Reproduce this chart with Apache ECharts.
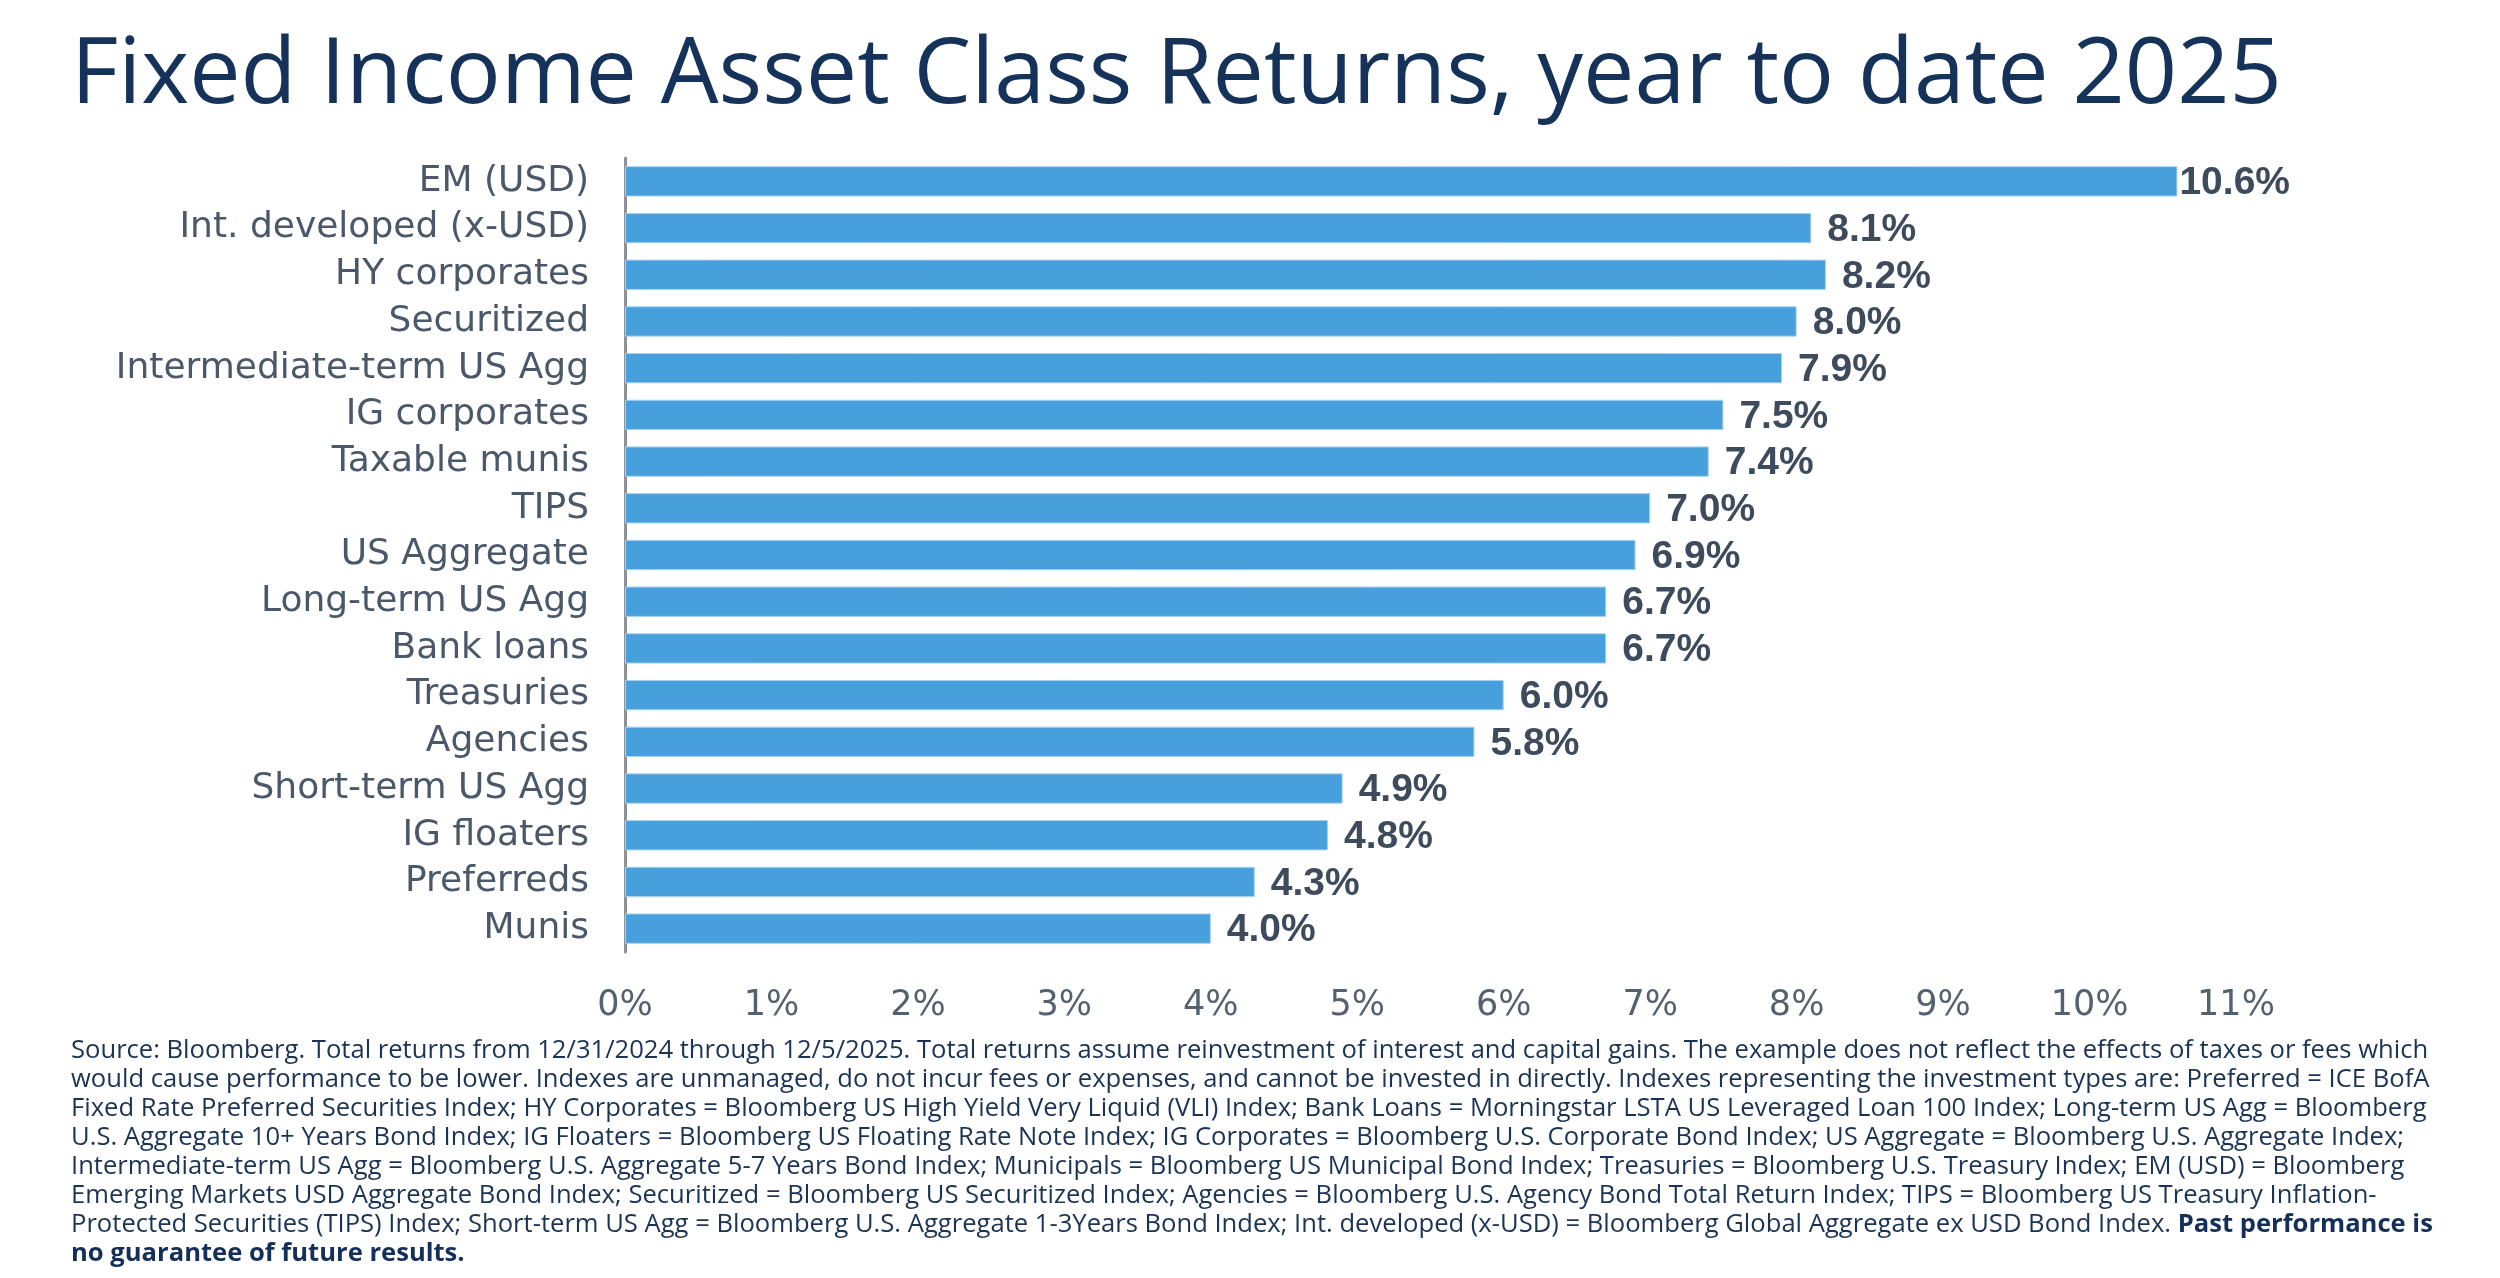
<!DOCTYPE html>
<html>
<head>
<meta charset="utf-8">
<title>Fixed Income Asset Class Returns</title>
<style>
    html, body { margin: 0; padding: 0; background: #fff; }
    #chart { width: 2500px; height: 1278px; }
</style>
</head>
<body>
<div id="chart"></div>
<script src="https://cdn.jsdelivr.net/npm/echarts@6/dist/echarts.min.js"></script>
<script>
    var categories = ['EM (USD)', 'Int. developed (x-USD)', 'HY corporates', 'Securitized', 'Intermediate-term US Agg',
        'IG corporates', 'Taxable munis', 'TIPS', 'US Aggregate', 'Long-term US Agg', 'Bank loans', 'Treasuries',
        'Agencies', 'Short-term US Agg', 'IG floaters', 'Preferreds', 'Munis'];
    var returns = [10.6, 8.1, 8.2, 8.0, 7.9, 7.5, 7.4, 7.0, 6.9, 6.7, 6.7, 6.0, 5.8, 4.9, 4.8, 4.3, 4.0];
    var axisTicks = [0, 1, 2, 3, 4, 5, 6, 7, 8, 9, 10, 11];

    var titleText = 'Fixed Income Asset Class Returns, year to date 2025';
    var noteLines = [
        'Source: Bloomberg. Total returns from 12/31/2024 through 12/5/2025. Total returns assume reinvestment of interest and capital gains. The example does not reflect the effects of taxes or fees which',
        'would cause performance to be lower. Indexes are unmanaged, do not incur fees or expenses, and cannot be invested in directly. Indexes representing the investment types are: Preferred = ICE BofA',
        'Fixed Rate Preferred Securities Index; HY Corporates = Bloomberg US High Yield Very Liquid (VLI) Index; Bank Loans = Morningstar LSTA US Leveraged Loan 100 Index; Long-term US Agg = Bloomberg',
        'U.S. Aggregate 10+ Years Bond Index; IG Floaters = Bloomberg US Floating Rate Note Index; IG Corporates = Bloomberg U.S. Corporate Bond Index; US Aggregate = Bloomberg U.S. Aggregate Index;',
        'Intermediate-term US Agg = Bloomberg U.S. Aggregate 5-7 Years Bond Index; Municipals = Bloomberg US Municipal Bond Index; Treasuries = Bloomberg U.S. Treasury Index; EM (USD) = Bloomberg',
        'Emerging Markets USD Aggregate Bond Index; Securitized = Bloomberg US Securitized Index; Agencies = Bloomberg U.S. Agency Bond Total Return Index; TIPS = Bloomberg US Treasury Inflation-',
        'Protected Securities (TIPS) Index; Short-term US Agg = Bloomberg U.S. Aggregate 1-3Years Bond Index; Int. developed (x-USD) = Bloomberg Global Aggregate ex USD Bond Index. {b|Past performance is}',
        '{b|no guarantee of future results.}'
    ];

    var myChart = echarts.init(document.getElementById('chart'));

    // footnote, one text per line so the wrapping matches the source
    var notes = noteLines.map(function (line, i) {
        return {
            type: 'text',
            left: 71,
            top: 1038 + i * 29,
            style: {
                text: line,
                font: '25.6px "Open Sans"',
                fill: '#1b3354',
                rich: {
                    b: { font: 'bold 25.6px "Open Sans"', fill: '#14305a' }
                }
            }
        };
    });

    var option = {
        backgroundColor: '#ffffff',
        animation: false,
        title: {
            text: titleText,
            left: 66,
            top: 26,
            textStyle: {
                fontFamily: 'Open Sans',
                fontSize: 91.5,
                fontWeight: 'normal',
                color: '#14325a'
            }
        },
        grid: {
            left: 625,
            top: 158,
            width: 1611,
            height: 794,
            containLabel: false
        },
        xAxis: {
            type: 'value',
            min: 0,
            max: 11,
            interval: 1,
            axisLine: { show: false },
            axisTick: { show: false },
            splitLine: { show: false },
            axisLabel: {
                margin: 36,
                fontFamily: 'DejaVu Sans',
                fontSize: 35,
                color: '#56616f',
                formatter: function (v) {
                    return axisTicks.indexOf(v) > -1 ? v + '%' : '';
                }
            }
        },
        yAxis: {
            type: 'category',
            inverse: true,
            data: categories,
            axisLine: { show: true, lineStyle: { color: '#8e9297', width: 3 } },
            axisTick: { show: false },
            axisLabel: {
                interval: 0,
                margin: 36,
                fontFamily: 'DejaVu Sans',
                fontSize: 36,
                lineHeight: 40,
                color: '#4a5869'
            }
        },
        series: [{
            type: 'bar',
            barCategoryGap: '35%',
            itemStyle: {
                color: '#479fdb',
                borderColor: '#a8d2f2',
                borderWidth: 1
            },
            label: {
                show: true,
                position: 'right',
                distance: 16,
                offset: [0, 2],
                fontFamily: 'Liberation Sans',
                fontWeight: 'bold',
                fontSize: 39,
                color: '#3d4b5c',
                formatter: function (p) {
                    return p.value.toFixed(1) + '%';
                }
            },
            data: returns.map(function (v, i) {
                // the top label sits right against its bar in the source
                return i === 0 ? { value: v, label: { distance: 2 } } : v;
            })
        }],
        graphic: notes
    };
    myChart.setOption(option);
</script>
</body>
</html>
